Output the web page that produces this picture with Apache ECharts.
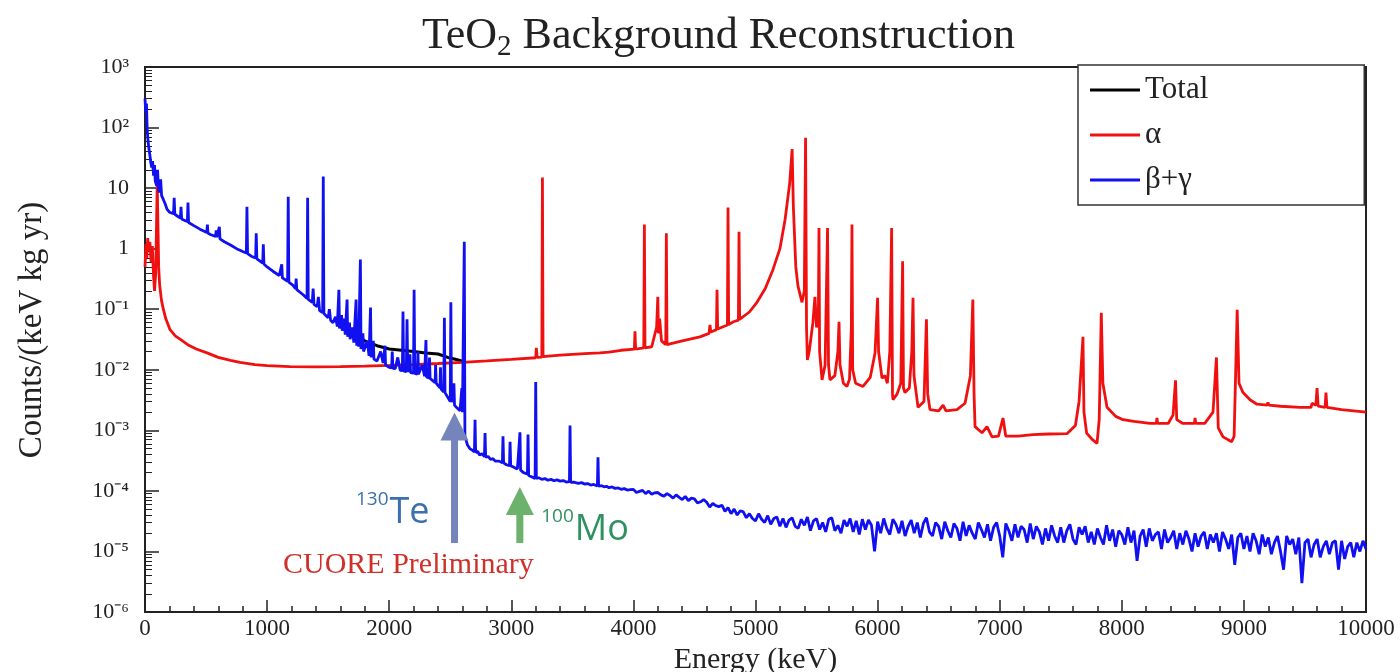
<!DOCTYPE html>
<html>
<head>
<meta charset="utf-8">
<title>TeO2 Background Reconstruction</title>
<script src="https://cdn.jsdelivr.net/npm/echarts@6/dist/echarts.min.js"></script>
<style>
  html, body { margin: 0; padding: 0; background: #fff; }
  #chart { width: 1400px; height: 672px; }
</style>
</head>
<body>
<div id="chart"></div>
<script>
// energy in keV, rate in counts/(keV kg yr)

const energyRange = [0, 10000]
const rateRange = [1e-6, 1e3]

// alpha component (red)
const alphaSpectrum = [
  [0, 0.5], [8, 1.2], [15, 0.7], [22, 1.5], [30, 0.9], [40, 1.3], [50, 0.6], [60, 1.1], [70, 0.35],
  [78, 0.2], [88, 0.4], [95, 3], [100, 12], [106, 2.5], [112, 0.5], [120, 0.25], [135, 0.14],
  [150, 0.1], [170, 0.07], [205, 0.046], [250, 0.036], [287, 0.032], [350, 0.026], [420, 0.022],
  [508, 0.019], [600, 0.016], [700, 0.0143], [778, 0.0132], [900, 0.0122], [1000, 0.0117],
  [1188, 0.0113], [1400, 0.0112], [1600, 0.0113], [1800, 0.0115], [2000, 0.0118], [2200, 0.0122],
  [2400, 0.0127], [2600, 0.0133], [2800, 0.014], [3000, 0.0148], [3200, 0.0158], [3205, 0.023],
  [3212, 0.016], [3250, 0.0162], [3255, 15], [3260, 0.0165], [3400, 0.0175], [3600, 0.0185],
  [3726, 0.019], [3800, 0.0195], [3900, 0.021], [4008, 0.022], [4013, 0.043], [4018, 0.022],
  [4085, 0.023], [4090, 2.5], [4095, 0.023], [4150, 0.024], [4190, 0.05], [4200, 0.16], [4205, 0.04],
  [4215, 0.07], [4230, 0.03], [4265, 0.026], [4270, 1.8], [4275, 0.026], [4400, 0.03], [4545, 0.035],
  [4620, 0.04], [4627, 0.055], [4634, 0.042], [4680, 0.046], [4685, 0.21], [4690, 0.047], [4720, 0.05],
  [4770, 0.055], [4775, 4.8], [4780, 0.056], [4820, 0.062], [4860, 0.066], [4865, 1.9], [4870, 0.068],
  [4950, 0.09], [5012, 0.13], [5080, 0.22], [5143, 0.45], [5200, 1.0], [5242, 3.0], [5280, 12],
  [5300, 44], [5310, 5], [5330, 0.5], [5348, 0.24], [5381, 0.13], [5400, 0.2], [5410, 68], [5418, 0.05],
  [5425, 0.0145], [5440, 0.02], [5470, 0.06], [5487, 0.16], [5500, 0.05], [5515, 0.08], [5520, 2.2],
  [5525, 0.02], [5545, 0.0068], [5570, 0.012], [5590, 2.2], [5598, 0.012], [5610, 0.0068], [5650, 0.008],
  [5675, 0.02], [5684, 0.062], [5692, 0.012], [5720, 0.006], [5749, 0.0053], [5770, 0.007], [5785, 0.05],
  [5790, 2.5], [5796, 0.01], [5820, 0.006], [5880, 0.0053], [5940, 0.0075], [5979, 0.019], [6000, 0.155],
  [6008, 0.02], [6036, 0.0073], [6060, 0.008], [6080, 0.006], [6100, 0.02], [6115, 2.2], [6122, 0.004],
  [6126, 0.0032], [6160, 0.004], [6190, 0.006], [6205, 0.62], [6212, 0.005], [6224, 0.0042], [6260, 0.005],
  [6280, 0.02], [6290, 0.155], [6298, 0.008], [6331, 0.0024], [6380, 0.003], [6400, 0.068], [6410, 0.004],
  [6429, 0.0022], [6500, 0.0021], [6536, 0.0026], [6560, 0.0021], [6650, 0.0022], [6716, 0.0028],
  [6760, 0.008], [6780, 0.145], [6790, 0.004], [6798, 0.00115], [6855, 0.00091], [6896, 0.00115],
  [6937, 0.00078], [6990, 0.0008], [7027, 0.0016], [7050, 0.0008], [7150, 0.0008], [7273, 0.00085],
  [7400, 0.00087], [7551, 0.00088], [7620, 0.0012], [7650, 0.003], [7682, 0.035], [7690, 0.002],
  [7712, 0.0009], [7760, 0.0007], [7797, 0.00061], [7815, 0.0015], [7832, 0.087], [7845, 0.006],
  [7879, 0.0024], [7950, 0.0017], [8010, 0.0015], [8100, 0.0014], [8231, 0.0013], [8283, 0.0013],
  [8288, 0.0016], [8293, 0.0013], [8380, 0.0013], [8420, 0.0018], [8440, 0.0067], [8450, 0.0015],
  [8500, 0.0013], [8595, 0.0013], [8600, 0.0016], [8605, 0.0013], [8680, 0.0013], [8747, 0.002],
  [8775, 0.016], [8790, 0.0011], [8829, 0.00078], [8900, 0.00065], [8920, 0.0008], [8945, 0.098],
  [8960, 0.006], [8993, 0.0042], [9050, 0.0032], [9107, 0.0027], [9190, 0.0026], [9197, 0.0029],
  [9204, 0.0026], [9300, 0.0025], [9460, 0.0024], [9550, 0.0024], [9558, 0.0028], [9590, 0.0026],
  [9599, 0.005], [9608, 0.0025], [9665, 0.0024], [9672, 0.0042], [9680, 0.0024], [9800, 0.0022],
  [9900, 0.0021], [10000, 0.002]
]

// beta + gamma component (blue), up to the 2615 keV line
const betaGammaLow = [
  [0, 300], [6, 180], [12, 250], [18, 90], [25, 60], [32, 45], [40, 35], [48, 26], [55, 22], [62, 28],
  [70, 16], [78, 24], [84, 13], [95, 11], [103, 20], [110, 9.5], [120, 8.5], [128, 14], [136, 7.5],
  [150, 6.5], [165, 5.5], [180, 4.5], [200, 4.0], [234, 3.8], [239, 6.9], [244, 3.7], [270, 3.4],
  [290, 3.2], [295, 4.9], [300, 3.1], [330, 2.9], [347, 2.8], [352, 5.8], [357, 2.7], [400, 2.4],
  [450, 2.1], [506, 1.85], [511, 2.5], [516, 1.8], [540, 1.7], [578, 1.6], [583, 2.0], [588, 1.55],
  [604, 1.5], [609, 2.3], [614, 1.45], [650, 1.3], [700, 1.15], [750, 1.0], [800, 0.9], [830, 0.85],
  [835, 4.9], [840, 0.83], [870, 0.75], [906, 0.7], [911, 1.8], [916, 0.68], [964, 0.58], [969, 1.18],
  [974, 0.56], [1000, 0.5], [1050, 0.42], [1100, 0.36], [1115, 0.34], [1120, 0.55], [1125, 0.33],
  [1168, 0.29], [1173, 7.2], [1178, 0.28], [1210, 0.25], [1233, 0.22], [1238, 0.32], [1243, 0.21],
  [1300, 0.17], [1327, 0.15], [1332, 6.9], [1337, 0.145], [1370, 0.13], [1377, 0.22], [1384, 0.12],
  [1410, 0.11], [1420, 0.16], [1430, 0.095], [1455, 0.088], [1460, 15.5], [1465, 0.085], [1500, 0.072],
  [1510, 0.1], [1520, 0.066], [1540, 0.06], [1560, 0.075], [1575, 0.052], [1583, 0.05], [1588, 0.21],
  [1593, 0.048], [1605, 0.046], [1610, 0.08], [1615, 0.044], [1620, 0.042], [1630, 0.07], [1640, 0.038],
  [1650, 0.036], [1655, 0.145], [1660, 0.035], [1670, 0.034], [1675, 0.06], [1680, 0.032], [1690, 0.031],
  [1700, 0.05], [1710, 0.028], [1724, 0.026], [1729, 0.145], [1734, 0.025], [1742, 0.025], [1746, 0.045],
  [1750, 0.024], [1759, 0.023], [1764, 0.66], [1769, 0.022], [1780, 0.021], [1785, 0.04], [1790, 0.02],
  [1800, 0.019], [1820, 0.03], [1835, 0.017], [1842, 0.016], [1847, 0.107], [1852, 0.016], [1866, 0.015],
  [1870, 0.03], [1875, 0.015], [1900, 0.014], [1930, 0.02], [1950, 0.013], [1962, 0.0125], [1966, 0.025],
  [1970, 0.012], [2000, 0.011], [2020, 0.0108], [2025, 0.02], [2030, 0.0106], [2050, 0.0105], [2070, 0.016],
  [2090, 0.0098], [2108, 0.0097], [2113, 0.092], [2118, 0.0096], [2140, 0.0093], [2146, 0.068],
  [2152, 0.0092], [2166, 0.0091], [2170, 0.018], [2175, 0.009], [2199, 0.0088], [2204, 0.21], [2209, 0.0087],
  [2230, 0.0085], [2235, 0.02], [2240, 0.0084], [2250, 0.0082], [2270, 0.012], [2290, 0.0078],
  [2296, 0.0077], [2301, 0.031], [2306, 0.0076], [2326, 0.0073], [2330, 0.016], [2335, 0.0072],
  [2350, 0.0068], [2376, 0.0061], [2380, 0.012], [2385, 0.006], [2400, 0.0055], [2416, 0.005],
  [2420, 0.011], [2425, 0.0048], [2447, 0.0043], [2452, 0.072], [2457, 0.0042], [2480, 0.0035],
  [2500, 0.003], [2505, 0.13], [2510, 0.0029], [2526, 0.0027], [2530, 0.006], [2535, 0.0026],
  [2550, 0.0024], [2580, 0.0021], [2591, 0.002], [2595, 0.005], [2600, 0.002], [2610, 0.0019],
  [2615, 1.3], [2620, 0.0008]
]

const betaGammaMid = [
  [2640, 5.8e-4], [2660, 5.0e-4], [2680, 4.7e-4], [2698, 4.4e-4], [2703, 1.5e-3], [2708, 4.3e-4],
  [2725, 4.5e-4], [2740, 3.9e-4], [2760, 4.1e-4], [2780, 3.7e-4], [2785, 9e-4], [2790, 3.6e-4],
  [2810, 3.7e-4], [2830, 3.3e-4], [2850, 3.4e-4], [2870, 3.1e-4], [2900, 3.1e-4], [2927, 2.9e-4],
  [2932, 8e-4], [2937, 2.9e-4], [2960, 2.7e-4], [2985, 2.6e-4], [2990, 6.5e-4], [2995, 2.6e-4],
  [3010, 2.5e-4], [3030, 2.4e-4], [3050, 2.3e-4], [3066, 2.2e-4], [3071, 9.3e-4], [3076, 2.2e-4],
  [3100, 2.0e-4], [3115, 2.05e-4], [3132, 1.9e-4], [3137, 8.5e-4], [3142, 1.8e-4], [3170, 1.7e-4],
  [3195, 1.6e-4], [3200, 6.3e-3], [3205, 1.6e-4], [3225, 1.65e-4], [3250, 1.55e-4], [3275, 1.6e-4],
  [3300, 1.5e-4], [3325, 1.55e-4], [3350, 1.47e-4], [3375, 1.52e-4], [3400, 1.45e-4], [3425, 1.48e-4],
  [3450, 1.4e-4], [3476, 1.42e-4], [3481, 1.2e-3], [3486, 1.38e-4], [3510, 1.4e-4], [3550, 1.33e-4],
  [3575, 1.37e-4], [3600, 1.3e-4], [3625, 1.32e-4], [3650, 1.25e-4], [3675, 1.28e-4], [3705, 1.2e-4],
  [3710, 3.6e-4], [3715, 1.2e-4], [3740, 1.22e-4], [3760, 1.17e-4], [3780, 1.19e-4], [3800, 1.13e-4],
  [3825, 1.16e-4], [3850, 1.1e-4], [3875, 1.12e-4], [3900, 1.06e-4], [3925, 1.09e-4], [3950, 1.03e-4],
  [3975, 1.05e-4]
]

// noisy flat tail, one value every 25 keV from 4000 keV
const tailStart = 4000
const tailStep = 25
const betaGammaTail = [
  1.06e-4, 9.4e-5, 9.8e-5, 1.02e-4, 9.0e-5, 9.9e-5, 8.8e-5, 9.3e-5,
  9.4e-5, 8.6e-5, 8.2e-5, 9.0e-5, 8.4e-5, 7.6e-5, 8.6e-5, 7.8e-5,
  7.2e-5, 8.1e-5, 6.9e-5, 7.6e-5, 7.4e-5, 6.3e-5, 6.6e-5, 7.2e-5,
  6.5e-5, 5.4e-5, 6.2e-5, 5.7e-5, 5.5e-5, 5.8e-5, 4.6e-5, 5.3e-5,
  4.2e-5, 5.0e-5, 4.0e-5, 4.7e-5, 4.5e-5, 3.6e-5, 4.2e-5, 3.5e-5,
  3.2e-5, 4.2e-5, 3.4e-5, 3.0e-5, 3.9e-5, 2.8e-5, 3.5e-5, 3.7e-5,
  2.6e-5, 3.5e-5, 2.5e-5, 3.3e-5, 3.6e-5, 2.6e-5, 2.4e-5, 3.4e-5,
  2.7e-5, 3.7e-5, 2.2e-5, 3.2e-5, 3.5e-5, 2.3e-5, 3.0e-5, 2.1e-5,
  3.4e-5, 3.6e-5, 2.2e-5, 2.7e-5, 2.0e-5, 3.3e-5, 2.6e-5, 3.5e-5,
  2.1e-5, 3.2e-5, 1.9e-5, 3.4e-5, 2.3e-5, 3.3e-5, 2.7e-5, 1.0e-5,
  3.1e-5, 2.0e-5, 3.5e-5, 2.4e-5, 1.9e-5, 3.4e-5, 2.8e-5, 2.0e-5,
  3.2e-5, 1.8e-5, 2.6e-5, 3.3e-5, 2.0e-5, 3.0e-5, 1.7e-5, 2.9e-5,
  3.6e-5, 2.1e-5, 1.8e-5, 3.0e-5, 2.6e-5, 1.6e-5, 3.1e-5, 2.2e-5,
  1.7e-5, 2.9e-5, 2.4e-5, 1.5e-5, 3.1e-5, 1.8e-5, 2.7e-5, 2.0e-5,
  1.6e-5, 3.0e-5, 2.3e-5, 1.7e-5, 2.8e-5, 1.5e-5, 2.5e-5, 3.0e-5,
  1.8e-5, 8.0e-6, 2.9e-5, 2.2e-5, 1.5e-5, 2.8e-5, 1.7e-5, 2.6e-5,
  2.3e-5, 1.4e-5, 2.9e-5, 1.6e-5, 2.6e-5, 2.1e-5, 1.3e-5, 2.4e-5,
  1.5e-5, 2.7e-5, 1.8e-5, 1.4e-5, 2.5e-5, 1.4e-5, 2.2e-5, 2.8e-5,
  1.6e-5, 1.3e-5, 2.5e-5, 1.9e-5, 2.6e-5, 1.4e-5, 2.1e-5, 1.3e-5,
  2.4e-5, 1.7e-5, 1.3e-5, 2.7e-5, 1.5e-5, 2.3e-5, 1.2e-5, 2.2e-5,
  1.9e-5, 1.3e-5, 2.5e-5, 1.4e-5, 2.2e-5, 7.0e-6, 1.8e-5, 2.3e-5,
  1.2e-5, 2.4e-5, 1.5e-5, 1.9e-5, 2.1e-5, 1.1e-5, 2.3e-5, 1.4e-5,
  1.7e-5, 2.2e-5, 1.1e-5, 2.0e-5, 1.3e-5, 2.2e-5, 1.6e-5, 1.0e-5,
  2.0e-5, 1.2e-5, 1.8e-5, 2.1e-5, 1.1e-5, 1.9e-5, 1.4e-5, 2.0e-5,
  1.0e-5, 2.1e-5, 1.6e-5, 1.1e-5, 1.9e-5, 6.0e-6, 1.7e-5, 2.0e-5,
  1.1e-5, 1.8e-5, 1.0e-5, 2.0e-5, 1.5e-5, 9.0e-6, 1.9e-5, 1.2e-5,
  1.7e-5, 9.0e-6, 1.4e-5, 1.8e-5, 1.0e-5, 5.0e-6, 1.8e-5, 1.3e-5,
  1.6e-5, 9.0e-6, 1.7e-5, 3.0e-6, 1.4e-5, 1.6e-5, 8.0e-6, 1.3e-5,
  1.6e-5, 8.0e-6, 1.2e-5, 1.5e-5, 9.0e-6, 1.4e-5, 1.5e-5, 5.0e-6,
  1.5e-5, 7.5e-6, 1.2e-5, 1.4e-5, 8.0e-6, 1.4e-5, 1.0e-5, 1.5e-5,
  1.1e-5
]

// total (black) only shows where neither component hides it
const totalSpectrum = [
  [1700, 0.04], [1800, 0.03], [1900, 0.025], [2000, 0.022], [2100, 0.021], [2200, 0.02],
  [2300, 0.019], [2400, 0.0182], [2480, 0.016], [2550, 0.0148], [2620, 0.0135]
]

// Q-value markers: energy, arrow tip and foot
const teArrow = { energy: 2535, top: 1.97e-3, bottom: 1.38e-5 }
const moArrow = { energy: 3070, top: 1.16e-4, bottom: 1.38e-5 }

const betaGammaSpectrum = betaGammaLow
  .concat(betaGammaMid)
  .concat(betaGammaTail.map((v, i) => [tailStart + i * tailStep, v]))

const serif = 'Liberation Serif'
const sans = 'Open Sans'

const supDigits = { '-': '\u207B', '0': '\u2070', '1': '\u00B9', '2': '\u00B2', '3': '\u00B3',
  '4': '\u2074', '5': '\u2075', '6': '\u2076', '7': '\u2077', '8': '\u2078', '9': '\u2079' }

const chart = echarts.init(document.getElementById('chart'))

chart.setOption({
  animation: false,
  backgroundColor: '#fff',
  title: {
    text: 'TeO{sub|2} Background Reconstruction',
    left: 417,
    top: 6,
    textStyle: {
      fontFamily: serif,
      fontSize: 44,
      fontWeight: 'normal',
      color: '#222',
      rich: {
        sub: { fontFamily: serif, fontSize: 29, color: '#222', padding: [22, 0, 0, 0] }
      }
    }
  },
  legend: {
    orient: 'vertical',
    left: 1078,
    top: 65,
    padding: [9, 156, 9, 12],
    itemGap: 13,
    itemWidth: 50,
    itemHeight: 3,
    borderColor: '#333',
    borderWidth: 1.5,
    backgroundColor: '#fff',
    selectedMode: false,
    textStyle: { fontFamily: serif, fontSize: 31, color: '#222', lineHeight: 32 },
    data: [
      { name: 'Total', icon: 'rect' },
      { name: '\u03B1', icon: 'rect' },
      { name: '\u03B2+\u03B3', icon: 'rect' }
    ]
  },
  grid: {
    left: 145,
    right: 34,
    top: 67,
    bottom: 60,
    containLabel: false,
    outerBoundsMode: 'none',
    show: true,
    borderColor: '#222',
    borderWidth: 2
  },
  xAxis: {
    type: 'value',
    min: energyRange[0],
    max: energyRange[1],
    interval: 1000,
    name: 'Energy (keV)',
    nameLocation: 'middle',
    nameGap: 27,
    nameTextStyle: { fontFamily: serif, fontSize: 30, color: '#222' },
    axisLine: { show: true, onZero: false, lineStyle: { color: '#222', width: 2 } },
    axisTick: { inside: true, length: 12, lineStyle: { color: '#222', width: 1.5 } },
    minorTick: { show: true, splitNumber: 5, length: 6, lineStyle: { color: '#222', width: 1.5 } },
    splitLine: { show: false },
    axisLabel: { fontFamily: serif, fontSize: 23, color: '#222', margin: 5, formatter: (v) => String(v) }
  },
  yAxis: {
    type: 'log',
    logBase: 10,
    min: rateRange[0],
    max: rateRange[1],
    splitNumber: 9,
    axisLine: { show: true, lineStyle: { color: '#222', width: 2 } },
    axisTick: { inside: true, length: 14, lineStyle: { color: '#222', width: 1.5 } },
    minorTick: { show: true, splitNumber: 9, length: 7, lineStyle: { color: '#222', width: 1 } },
    splitLine: { show: false },
    axisLabel: {
      fontFamily: serif,
      fontSize: 22,
      color: '#222',
      margin: 16,
      formatter: (v) => {
        const p = Math.round(Math.log10(v))
        if (p === 0) return '1'
        if (p === 1) return '10'
        return '10' + String(p).split('').map(c => supDigits[c]).join('')
      }
    }
  },
  series: [
    {
      name: 'Total',
      type: 'line',
      data: totalSpectrum,
      showSymbol: false,
      symbol: 'none',
      color: '#000',
      lineStyle: { color: '#000', width: 3 },
      z: 1
    },
    {
      name: '\u03B1',
      type: 'line',
      data: alphaSpectrum,
      showSymbol: false,
      symbol: 'none',
      color: '#f01010',
      lineStyle: { color: '#f01010', width: 2.8 },
      z: 2
    },
    {
      name: '\u03B2+\u03B3',
      type: 'line',
      data: betaGammaSpectrum,
      showSymbol: false,
      symbol: 'none',
      color: '#1010f0',
      lineStyle: { color: '#1010f0', width: 2.8 },
      z: 3
    }
  ]
})

// arrows and labels placed through the axes
function arrowShape (a, shaftHalf, headHalf, headLen) {
  const tip = chart.convertToPixel({ gridIndex: 0 }, [a.energy, a.top])
  const foot = chart.convertToPixel({ gridIndex: 0 }, [a.energy, a.bottom])
  const x = tip[0]
  return {
    x,
    tipY: tip[1],
    footY: foot[1],
    points: [
      [x - shaftHalf, foot[1]], [x - shaftHalf, tip[1] + headLen], [x - headHalf, tip[1] + headLen],
      [x, tip[1]], [x + headHalf, tip[1] + headLen], [x + shaftHalf, tip[1] + headLen],
      [x + shaftHalf, foot[1]]
    ]
  }
}

const te = arrowShape(teArrow, 3.5, 14, 28)
const mo = arrowShape(moArrow, 3.5, 14, 28)

chart.setOption({
  graphic: [
    { type: 'polygon', shape: { points: te.points }, style: { fill: '#7585bb' }, z: 10 },
    { type: 'polygon', shape: { points: mo.points }, style: { fill: '#6cb16c' }, z: 10 },
    {
      type: 'text', x: te.x - 65, y: te.footY - 30, z: 10,
      style: { text: 'Te', fontFamily: sans, fontSize: 36, fill: '#3b70ad', align: 'left', verticalAlign: 'middle' }
    },
    {
      type: 'text', x: te.x - 66, y: te.footY - 43, z: 10,
      style: { text: '130', fontFamily: sans, fontSize: 19, fill: '#3b70ad', align: 'right', verticalAlign: 'middle' }
    },
    {
      type: 'text', x: mo.x + 55, y: mo.footY - 13, z: 10,
      style: { text: 'Mo', fontFamily: sans, fontSize: 36, fill: '#2f9160', align: 'left', verticalAlign: 'middle' }
    },
    {
      type: 'text', x: mo.x + 54, y: mo.footY - 26, z: 10,
      style: { text: '100', fontFamily: sans, fontSize: 19, fill: '#2f9160', align: 'right', verticalAlign: 'middle' }
    },
    {
      type: 'text', x: 283, y: 565, z: 10,
      style: { text: 'CUORE Preliminary', fontFamily: serif, fontSize: 30, fill: '#d0302a', align: 'left', verticalAlign: 'middle' }
    },
    {
      type: 'text', x: 32, y: 330, rotation: Math.PI / 2, z: 10,
      style: { text: 'Counts/(keV kg yr)', fontFamily: serif, fontSize: 33, fill: '#222', align: 'center', verticalAlign: 'middle' }
    }
  ]
})
</script>
</body>
</html>
